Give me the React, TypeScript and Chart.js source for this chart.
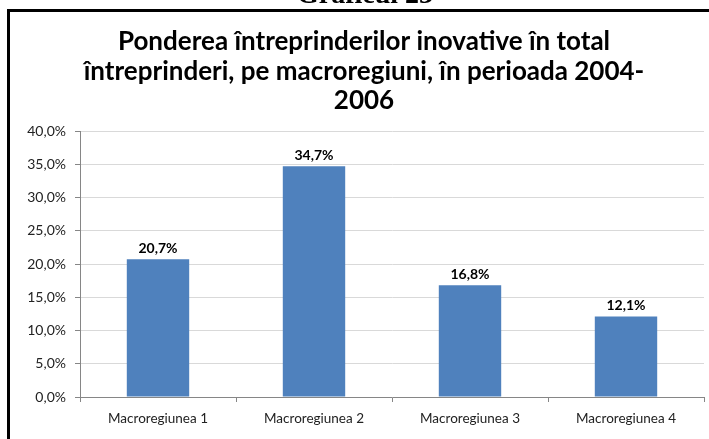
import React, { useEffect, useRef } from "react";
import { Chart, registerables } from "chart.js";

Chart.register(...registerables);

const categories = ["Macroregiunea 1", "Macroregiunea 2", "Macroregiunea 3", "Macroregiunea 4"];
const values = [20.7, 34.7, 16.8, 12.1];
const titleLines = [
  "Ponderea întreprinderilor inovative în total",
  "întreprinderi, pe macroregiuni, în perioada 2004-",
  "2006",
];
const headerText = "Graficul 23";

const fmt = (v: number) => v.toFixed(1).replace(".", ",") + "%";

const FONT = "Lato, 'Open Sans', sans-serif";

const decorPlugin = {
  id: "decor",
  beforeDraw(chart: any) {
    const ctx = chart.ctx;
    ctx.save();
    ctx.fillStyle = "#ffffff";
    ctx.fillRect(0, 0, chart.width, chart.height);
    ctx.restore();
  },
  afterDraw(chart: any) {
    const ctx = chart.ctx;
    ctx.save();
    ctx.fillStyle = "#000000";
    ctx.fillRect(7, 9, chart.width - 7, 3);
    ctx.fillRect(7, 9, 3, chart.height - 9);
    ctx.font = "bold 28px 'Liberation Serif', serif";
    ctx.textAlign = "center";
    ctx.textBaseline = "alphabetic";
    ctx.fillText(headerText, 365, 3);
    // chart title
    ctx.font = "bold 26px " + FONT;
    ctx.textBaseline = "middle";
    titleLines.forEach((line, i) => {
      ctx.fillText(line, 364, 42 + i * 29.5);
    });
    ctx.restore();
  },
};

const labelPlugin = {
  id: "barLabels",
  afterDatasetsDraw(chart: any) {
    const ctx = chart.ctx;
    const meta = chart.getDatasetMeta(0);
    ctx.save();
    ctx.font = "bold 14px " + FONT;
    ctx.fillStyle = "#000000";
    ctx.textAlign = "center";
    ctx.textBaseline = "bottom";
    meta.data.forEach((bar: any, i: number) => {
      ctx.fillText(fmt(values[i]), bar.x, bar.y - 4);
    });
    ctx.restore();
  },
};

export default function App() {
  const ref = useRef<HTMLCanvasElement>(null);
  useEffect(() => {
    document.body.style.margin = "0";
    const chart = new Chart(ref.current!, {
      type: "bar",
      data: {
        labels: categories,
        datasets: [
          {
            data: values,
            backgroundColor: "#4F81BD",
            barPercentage: 0.4,
            categoryPercentage: 1,
          },
        ],
      },
      options: {
        animation: false,
        responsive: false,
        devicePixelRatio: 1,
        layout: { padding: { left: 10, right: 5, top: 131, bottom: 0 } },
        plugins: {
          legend: { display: false },
          tooltip: { enabled: false },
          title: { display: false },
        },
        scales: {
          x: {
            grid: {
              offset: true,
              drawOnChartArea: false,
              tickLength: 5,
              tickColor: "#868686",
            },
            border: { color: "#868686" },
            ticks: {
              color: "#222222",
              font: { family: FONT, size: 13.5 },
              padding: 9,
            },
            afterFit(scale: any) {
              scale.height = 42;
            },
          },
          y: {
            min: 0,
            max: 40,
            grid: { color: "#d9d9d9", tickLength: 5, tickColor: "#868686" },
            border: { color: "#868686" },
            ticks: {
              stepSize: 5,
              color: "#222222",
              font: { family: FONT, size: 14 },
              padding: 9,
              callback: (v: any) => fmt(Number(v)),
            },
            afterFit(scale: any) {
              scale.width = 70;
            },
          },
        },
      },
      plugins: [decorPlugin, labelPlugin],
    });
    return () => chart.destroy();
  }, []);
  return <canvas ref={ref} width={709} height={439} style={{ display: "block" }} />;
}
